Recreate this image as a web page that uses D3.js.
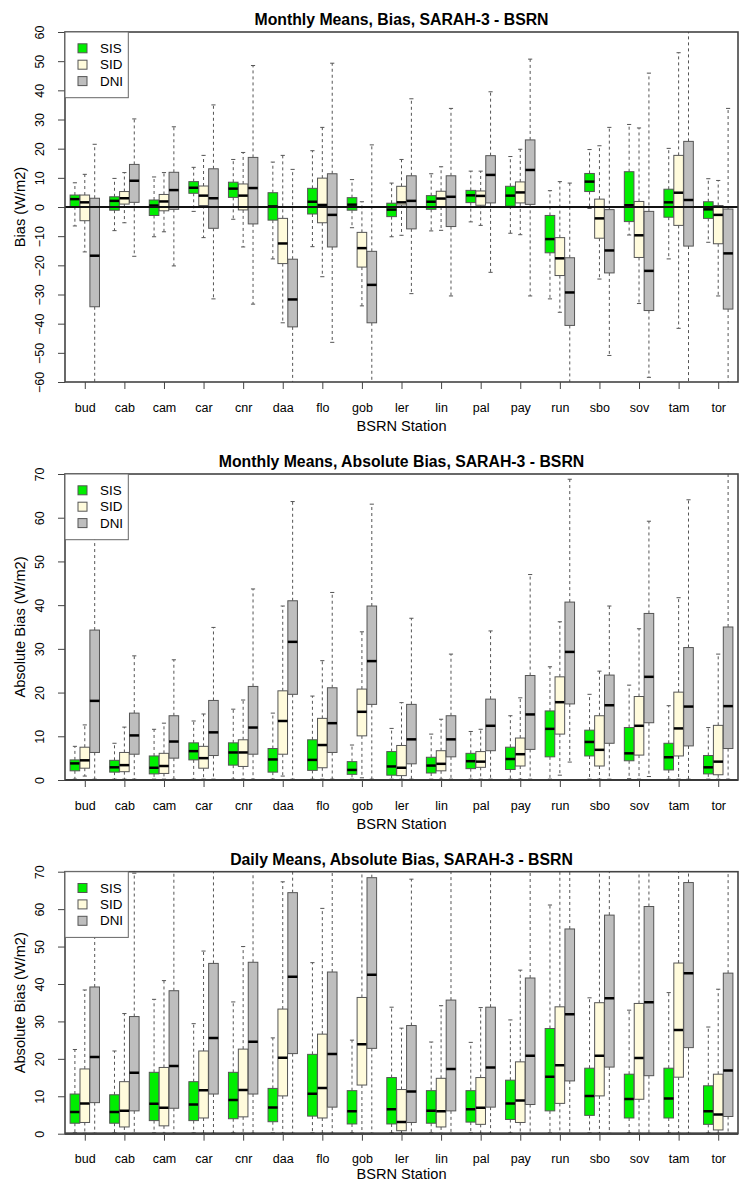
<!DOCTYPE html>
<html><head><meta charset="utf-8">
<script src="https://cdn.jsdelivr.net/npm/d3@7/dist/d3.min.js"></script>
<style>
body{margin:0;background:#fff}
svg{display:block}
text{font-family:"Liberation Sans",Arial,Helvetica,sans-serif;fill:#000}
</style>
</head><body>
<svg id="chart" width="740" height="1183"></svg>
<script>
// ---------- categories ----------
const stations = ["bud","cab","cam","car","cnr","daa","flo","gob","ler","lin","pal","pay","run","sbo","sov","tam","tor"];
const seriesNames = ["SIS","SID","DNI"];
const seriesColors = ["#00ee00","#fffbdc","#bebebe"];

// ---------- tick labels ----------
const biasTicks = [-60,-50,-40,-30,-20,-10,0,10,20,30,40,50,60];
const absTicks = [0,10,20,30,40,50,60,70];

// ---------- data: [lower whisker, Q1, median, Q3, upper whisker] per station ----------
// Panel 1: Monthly Means, Bias
const monBiasSIS = [[-6.5,0.1,2.7,4.1,8.3],[-8.1,-1.1,2.1,3.5,9.8],[-10.2,-2.9,0.5,2.4,10.3],[-1.5,4.7,6.6,8.7,13.6],[-4.2,3.3,6.3,8.5,16.3],[-17.8,-4.5,0.2,4.9,15.4],[-13.6,-2.4,1.8,6.4,19.3],[-7.1,-1.1,0.8,3.2,9.4],[-10.2,-3.3,-0.9,1.3,8.2],[-8.2,-0.8,1.8,3.9,11.4],[-5.1,1.5,4.0,5.7,12.3],[-9.0,0.3,3.9,7.1,17.3],[-31.5,-15.7,-11.0,-2.9,5.6],[-0.5,5.3,8.7,11.5,19.7],[-9.6,-5.0,0.6,12.1,28.3],[-17.8,-3.5,1.6,6.1,20.1],[-12.1,-3.9,-0.8,1.8,9.7]];
const monBiasSID = [[-15.4,-4.7,1.6,4.1,11.2],[-5.4,1.0,3.0,5.3,11.8],[-8.5,-1.3,1.9,4.3,11.8],[-10.5,0.5,3.9,7.2,17.7],[-13.7,-1.0,3.9,7.9,18.7],[-39.7,-19.4,-12.5,-3.9,17.7],[-23.9,-5.4,0.7,9.9,27.3],[-33.9,-20.6,-14.1,-8.7,1.8],[-9.7,0.7,1.6,7.1,16.3],[-8.0,0.0,2.9,5.4,13.8],[-6.3,0.6,3.8,5.5,12.3],[-9.5,1.4,5.0,8.6,19.8],[-36.1,-23.5,-17.6,-10.5,8.7],[-24.7,-10.7,-3.9,2.7,21.0],[-33.1,-17.3,-9.7,1.9,27.1],[-41.6,-6.3,4.9,17.7,52.9],[-30.5,-12.6,-2.7,0.5,9.1]];
const monBiasDNI = [[-65,-34.2,-16.7,3.0,21.5],[-16.9,1.6,9.0,14.6,30.2],[-20.2,-0.8,5.8,11.9,27.5],[-31.5,-7.3,3.0,13.1,35.0],[-33.3,-5.8,6.5,17.0,48.5],[-65,-41.1,-31.7,-17.9,12.9],[-46.4,-13.7,-2.7,11.4,49.3],[-65,-39.7,-26.7,-15.2,21.3],[-29.7,-7.5,2.1,10.7,37.1],[-30.5,-6.7,3.5,10.7,33.8],[-22.4,1.4,11.0,17.6,39.5],[-30.5,0.9,12.7,23.0,50.7],[-65,-40.6,-29.3,-17.4,8.2],[-50.9,-22.6,-14.9,-0.9,27.3],[-58.4,-35.5,-21.9,-1.5,45.9],[-65,-13.4,2.4,22.5,65],[-65,-35.0,-15.9,-0.7,33.8]];

// Panel 2: Monthly Means, Absolute Bias
const monAbsSIS = [[0.2,2.1,3.8,4.6,7.7],[0.2,1.8,2.9,4.5,8.4],[0.2,1.4,2.8,5.5,11.6],[0.2,4.6,6.6,8.5,13.5],[0.2,3.4,6.3,8.5,16.2],[0.2,1.8,4.7,7.2,15.3],[0.2,2.2,4.6,9.2,19.2],[0.2,1.3,2.3,4.2,8.0],[0.2,1.1,3.1,6.5,11.8],[0.2,1.6,3.3,5.2,10.5],[0.2,2.6,4.3,6.1,11.1],[0.2,2.4,4.8,7.5,14.7],[0.2,5.3,11.7,15.8,25.9],[0.2,5.5,8.7,11.4,19.6],[0.3,4.4,6.1,12.0,21.7],[0.2,2.3,5.2,8.4,17.0],[0.2,1.4,2.9,5.6,12.0]];
const monAbsSID = [[0.9,2.7,4.5,7.5,12.6],[0.2,1.9,3.4,6.3,12.1],[0.2,1.5,3.2,6.1,13.0],[0.2,2.7,5.0,7.7,15.1],[0.2,3.1,6.3,9.2,18.3],[0.9,5.9,13.5,20.4,39.8],[0.2,2.8,8.0,14.1,27.3],[0.5,10.1,15.6,20.8,33.9],[0.2,1.0,2.8,7.9,17.7],[0.2,2.1,3.7,6.7,13.9],[0.2,2.9,4.2,6.5,11.6],[0.2,3.2,5.9,9.6,18.8],[1.1,10.5,17.8,23.6,36.2],[0.2,3.2,6.9,14.7,24.9],[0.2,5.7,12.4,19.1,34.6],[0.2,5.5,11.8,20.1,41.7],[0.2,1.2,4.2,12.5,28.8]];
const monAbsDNI = [[0.2,6.3,18.1,34.3,66],[0.2,5.9,10.2,15.3,28.4],[0.2,5.0,8.8,14.7,27.5],[0.2,5.6,10.9,18.2,34.9],[0.2,5.9,12.0,21.4,43.7],[0.2,19.6,31.6,41.0,63.7],[0.2,6.3,13.0,21.1,42.9],[0.2,17.3,27.2,39.8,63.1],[0.2,3.7,9.3,17.3,37.0],[0.2,5.3,9.3,14.7,28.8],[0.2,6.7,12.4,18.5,34.1],[0.2,7.0,15.0,23.9,47.0],[4.1,17.4,29.3,40.7,68.8],[0.2,8.4,17.1,24.0,39.8],[0.8,13.1,23.6,38.1,59.2],[0.2,7.8,16.8,30.3,64.1],[0.2,7.2,16.9,35.0,72]];

// Panel 3: Daily Means, Absolute Bias
const dayAbsSIS = [[0.2,2.8,5.8,10.6,22.5],[0.2,2.8,5.8,10.4,22.1],[0.2,3.5,8.0,16.4,35.9],[0.2,3.5,7.8,13.9,29.4],[0.2,4.0,9.0,16.4,35.2],[0.2,3.2,7.0,12.1,25.6],[0.2,4.7,10.7,21.2,45.7],[0.2,2.6,6.0,11.5,25.0],[0.2,2.6,6.5,15.0,33.8],[0.2,2.8,6.1,11.5,24.5],[0.2,3.1,6.5,11.5,24.4],[0.2,3.8,8.1,14.3,30.4],[0.2,6.1,15.2,28.1,61.1],[0.2,4.9,10.1,17.5,36.3],[0.2,4.2,9.3,15.9,33.0],[0.2,4.2,9.4,17.5,37.7],[0.2,2.5,6.0,12.8,28.5]];
const dayAbsSID = [[0.1,3.0,8.1,17.3,38.4],[0.1,1.8,6.1,13.9,32.1],[0.1,2.1,6.9,17.7,40.9],[0.1,4.2,11.6,22.1,48.8],[0.1,4.5,11.7,22.6,50.0],[0.1,10.1,20.3,33.3,67.3],[0.1,4.2,12.2,26.6,60.2],[0.1,13.0,23.9,36.4,75],[0.1,0.8,3.1,11.8,28.2],[0.1,1.8,6.0,14.8,34.2],[0.1,2.5,6.9,15.0,33.7],[0.1,3.0,8.9,19.2,43.7],[0.1,8.1,18.3,33.9,75],[0.1,10.1,20.8,35.0,75],[0.1,9.2,20.2,34.8,75],[0.1,15.1,27.7,45.6,75],[0.1,1.0,5.1,15.9,38.6]];
const dayAbsDNI = [[0.1,8.3,20.5,39.2,75],[0.1,6.1,16.3,31.3,69.6],[0.1,6.8,18.1,38.2,75],[0.1,10.6,25.6,45.5,75],[0.1,10.6,24.6,45.8,75],[0.1,21.4,41.9,64.4,75],[0.1,7.1,21.3,43.2,75],[0.1,22.8,42.5,68.4,75],[0.1,3.0,11.3,28.9,68.0],[0.1,6.1,17.3,35.7,75],[0.1,7.1,17.7,33.8,75],[0.1,7.8,20.8,41.6,75],[0.1,14.1,31.9,54.7,75],[0.1,17.8,36.2,58.4,75],[0.1,15.5,35.1,60.7,75],[0.1,23.0,42.9,67.1,75],[0.1,4.6,16.9,42.9,75]];

const panels = [
  {title:"Monthly Means, Bias, SARAH-3 - BSRN", ylabel:"Bias (W/m2)", top:32, bottom:382, domain:[-60,60], ticks:biasTicks, data:[monBiasSIS,monBiasSID,monBiasDNI], xlabOff:49},
  {title:"Monthly Means, Absolute Bias, SARAH-3 - BSRN", ylabel:"Absolute Bias (W/m2)", top:474, bottom:780, domain:[0,70], ticks:absTicks, data:[monAbsSIS,monAbsSID,monAbsDNI], xlabOff:49},
  {title:"Daily Means, Absolute Bias, SARAH-3 - BSRN", ylabel:"Absolute Bias (W/m2)", top:871.7, bottom:1133.7, domain:[0,70], ticks:absTicks, data:[dayAbsSIS,dayAbsSID,dayAbsDNI], xlabOff:45.5}
];

const svg = d3.select("#chart");
const left = 65, right = 738;
const x = d3.scaleLinear().domain([0, stations.length*4]).range([left, right]);
const unit = x(1) - x(0);
const boxW = unit*0.97, capW = unit*0.42;

panels.forEach((p, pi) => {
  const y = d3.scaleLinear().domain(p.domain).range([p.bottom, p.top]);
  const g = svg.append("g");
  const clipId = "clip" + pi;
  svg.append("clipPath").attr("id", clipId).append("rect")
    .attr("x", left).attr("y", p.top).attr("width", right-left).attr("height", p.bottom-p.top);

  const plot = g.append("g").attr("clip-path", `url(#${clipId})`);

  // boxes
  p.data.forEach((arr, si) => {
    arr.forEach((d, i) => {
      const cx = x(i*4 + 1 + si);
      const bg = plot.append("g");
      bg.append("line").attr("x1",cx).attr("x2",cx).attr("y1",y(d[3])).attr("y2",y(d[4]))
        .attr("stroke","#555").attr("stroke-width",1).attr("stroke-dasharray","3,3");
      bg.append("line").attr("x1",cx).attr("x2",cx).attr("y1",y(d[1])).attr("y2",y(d[0]))
        .attr("stroke","#555").attr("stroke-width",1).attr("stroke-dasharray","3,3");
      [d[0], d[4]].forEach(v => {
        bg.append("line").attr("x1",cx-capW/2).attr("x2",cx+capW/2).attr("y1",y(v)).attr("y2",y(v))
          .attr("stroke","#555").attr("stroke-width",1);
      });
      bg.append("rect").attr("x",cx-boxW/2).attr("width",boxW)
        .attr("y",y(d[3])).attr("height",Math.max(0.5,y(d[1])-y(d[3])))
        .attr("fill",seriesColors[si]).attr("stroke","#555").attr("stroke-width",1);
      bg.append("line").attr("x1",cx-boxW/2).attr("x2",cx+boxW/2).attr("y1",y(d[2])).attr("y2",y(d[2]))
        .attr("stroke","#000").attr("stroke-width",2.5);
    });
  });

  // zero line
  g.append("line").attr("x1",left).attr("x2",right).attr("y1",y(0)).attr("y2",y(0))
    .attr("stroke","#111").attr("stroke-width",2.2);

  // axes
  const yAxis = d3.axisLeft(y).tickValues(p.ticks).tickSize(7).tickFormat(d3.format("d"));
  const ya = g.append("g").attr("transform",`translate(${left},0)`).call(yAxis);
  ya.select(".domain").remove();
  ya.selectAll(".tick line").attr("stroke","#444");
  ya.selectAll(".tick text").attr("font-size","12.5px").attr("font-family",'"Liberation Sans",Arial,sans-serif')
    .attr("text-anchor","middle").attr("x",0).attr("dy",null)
    .attr("dominant-baseline","central")
    .attr("transform","translate(-25,0) rotate(-90)");

  const xAxis = d3.axisBottom(x).tickValues(stations.map((s,i)=>i*4+2)).tickSize(7)
    .tickFormat((d,i)=>stations[i]);
  const xa = g.append("g").attr("transform",`translate(0,${p.bottom})`).call(xAxis);
  xa.select(".domain").remove();
  xa.selectAll(".tick line").attr("stroke","#444");
  xa.selectAll(".tick text").attr("font-size","12.5px").attr("font-family",'"Liberation Sans",Arial,sans-serif')
    .attr("y",29.5).attr("dy",null);

  // frame
  g.append("rect").attr("x",left).attr("y",p.top).attr("width",right-left).attr("height",p.bottom-p.top)
    .attr("fill","none").attr("stroke","#444").attr("stroke-width",1.6);

  // titles
  g.append("text").attr("x",(left+right)/2).attr("y",p.top-7).attr("text-anchor","middle")
    .attr("font-size","15.8px").attr("font-weight","bold").text(p.title);
  g.append("text").attr("x",(left+right)/2).attr("y",p.bottom+p.xlabOff).attr("text-anchor","middle")
    .attr("font-size","14.6px").text("BSRN Station");
  g.append("text").attr("transform",`translate(19.5,${(p.top+p.bottom)/2}) rotate(-90)`)
    .attr("text-anchor","middle").attr("dominant-baseline","central")
    .attr("font-size","14.6px").text(p.ylabel);

  // legend
  const lg = g.append("g");
  lg.append("rect").attr("x",left).attr("y",p.top).attr("width",63.3).attr("height",65.7)
    .attr("fill","#fff").attr("stroke","#666").attr("stroke-width",1);
  seriesNames.forEach((s, si) => {
    const cy = p.top + 16.3 + si*16.4;
    lg.append("rect").attr("x",left+13).attr("y",cy-4.5).attr("width",9).attr("height",9)
      .attr("fill",seriesColors[si]).attr("stroke","#555").attr("stroke-width",1);
    lg.append("text").attr("x",left+35).attr("y",cy).attr("dominant-baseline","central")
      .attr("font-size","13.4px").text(s);
  });
});
</script>
</body></html>
